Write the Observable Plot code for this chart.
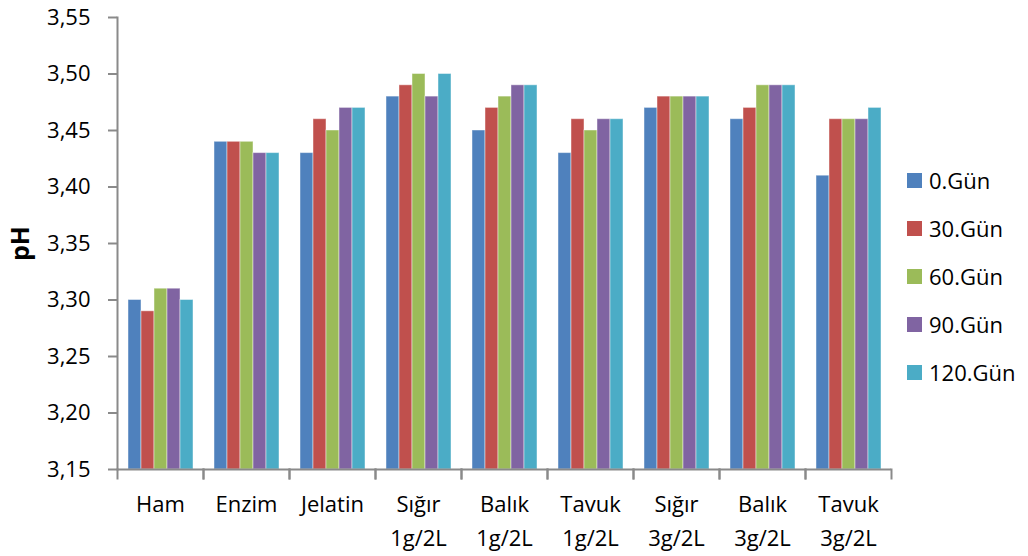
<!DOCTYPE html>
<html>
<head>
<meta charset="utf-8">
<script src="https://cdn.jsdelivr.net/npm/d3@7"></script>
<script src="https://cdn.jsdelivr.net/npm/@observablehq/plot@0.6"></script>
<style>
  html, body { margin: 0; padding: 0; background: #fff; }
  #wrap { position: relative; width: 1028px; height: 556px; font-family: "Open Sans", sans-serif; }
  #chart svg g[aria-label="y-axis label"] text { font-weight: bold; font-size: 25px; }
  #legend { position: absolute; left: 907px; top: 156px; }
  .row { display: flex; align-items: center; height: 48px; font-size: 22px; color: #000; }
  .sw { width: 15px; height: 15px; margin-right: 7px; }
</style>
</head>
<body>
<div id="wrap">
  <div id="chart"></div>
  <div id="legend"></div>
</div>
<script>
// pH measurements per sample group over storage time
const categories = ["Ham", "Enzim", "Jelatin", "Sığır\n1g/2L", "Balık\n1g/2L", "Tavuk\n1g/2L", "Sığır\n3g/2L", "Balık\n3g/2L", "Tavuk\n3g/2L"];
const series = ["0.Gün", "30.Gün", "60.Gün", "90.Gün", "120.Gün"];
const gun0   = [3.30, 3.44, 3.43, 3.48, 3.45, 3.43, 3.47, 3.46, 3.41];
const gun30  = [3.29, 3.44, 3.46, 3.49, 3.47, 3.46, 3.48, 3.47, 3.46];
const gun60  = [3.31, 3.44, 3.45, 3.50, 3.48, 3.45, 3.48, 3.49, 3.46];
const gun90  = [3.31, 3.43, 3.47, 3.48, 3.49, 3.46, 3.48, 3.49, 3.46];
const gun120 = [3.30, 3.43, 3.47, 3.50, 3.49, 3.46, 3.48, 3.49, 3.47];
const yTicks = [3.15, 3.20, 3.25, 3.30, 3.35, 3.40, 3.45, 3.50, 3.55];
const colors = ["#4F81BD", "#C0504D", "#9BBB59", "#8064A2", "#4BACC6"];

const columns = [gun0, gun30, gun60, gun90, gun120];
const data = [];
categories.forEach((c, i) => series.forEach((s, j) => data.push({cat: c, series: s, value: columns[j][i]})));

const yMin = yTicks[0];
const yMax = yTicks[yTicks.length - 1];
const axisColor = "#8a8a8a";
const height = 556, marginTop = 17, marginBottom = 87;
const innerHeight = height - marginTop - marginBottom;

const chart = Plot.plot({
  width: 900,
  height,
  marginLeft: 116,
  marginRight: 9,
  marginTop,
  marginBottom,
  style: {fontFamily: "'Open Sans', sans-serif", fontSize: "22px", color: "#000", background: "transparent"},
  fx: {domain: categories, padding: 0, label: null, axis: null},
  x: {domain: series, paddingInner: 0, paddingOuter: 0.75, axis: null},
  y: {domain: [yMin, yMax], axis: null},
  color: {domain: series, range: colors},
  marks: [
    Plot.barY(data, {fx: "cat", x: "series", y1: () => yMin, y2: "value", fill: "series",
      stroke: "white", strokeOpacity: 0.45, strokeWidth: 1}),
    Plot.ruleY([yMin], {stroke: axisColor, strokeWidth: 2}),
    Plot.frame({anchor: "left", stroke: axisColor, strokeWidth: 2, insetTop: innerHeight, insetBottom: -9}),
    Plot.frame({anchor: "right", stroke: axisColor, strokeWidth: 2, insetTop: innerHeight, insetBottom: -9}),
    Plot.frame({anchor: "left", fx: [categories[0]], stroke: axisColor, strokeWidth: 2}),
    Plot.axisY({ticks: yTicks, tickFormat: d => d.toFixed(2).replace(".", ","), tickSize: 9, tickPadding: 18,
      stroke: axisColor, strokeWidth: 2, label: "pH", labelAnchor: "center", labelArrow: "none", labelOffset: 106}),
    Plot.axisFx({anchor: "bottom", tickSize: 0, tickPadding: 18, lineHeight: 1.55, label: null})
  ]
});
document.getElementById("chart").appendChild(chart);

const legend = d3.select("#legend");
series.forEach((s, i) => {
  const row = legend.append("div").attr("class", "row");
  row.append("div").attr("class", "sw").style("background", colors[i]);
  row.append("span").text(s);
});
</script>
</body>
</html>
